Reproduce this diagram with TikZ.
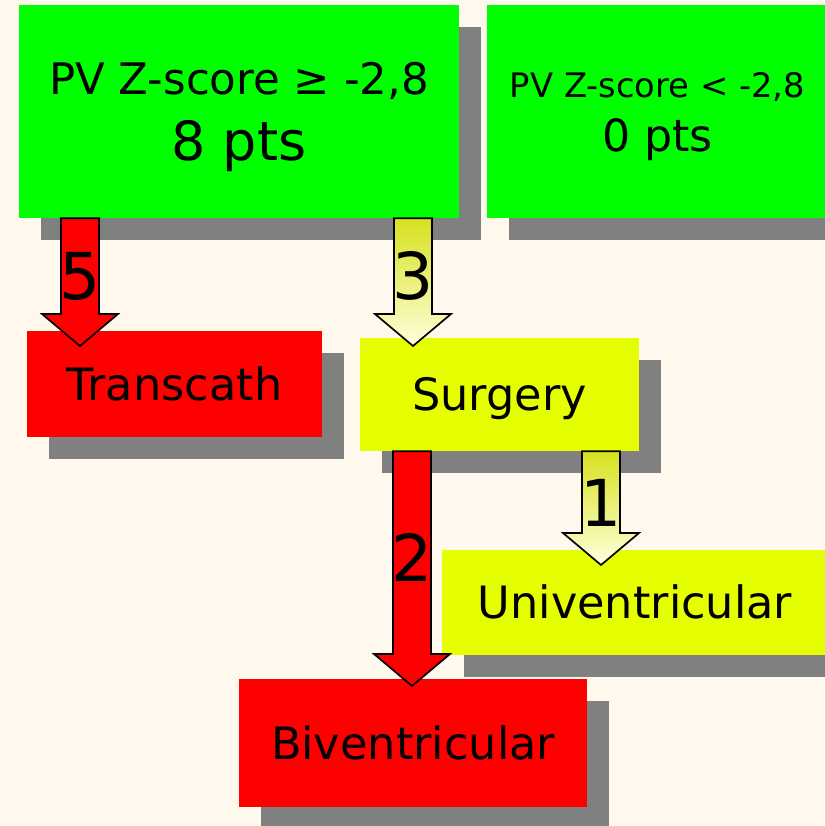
\documentclass[tikz,border=0pt]{standalone}
\usepackage{fontspec}
\setmainfont{DejaVu Sans}
\usetikzlibrary{calc,shadows}

\definecolor{bgcream}{RGB}{255,248,236}
\definecolor{boxgreen}{RGB}{0,255,0}
\definecolor{boxred}{RGB}{255,0,0}
\definecolor{boxyellow}{RGB}{230,255,0}
\definecolor{boxshadow}{RGB}{128,128,128}
\definecolor{arrowtop}{RGB}{215,225,30}
\definecolor{arrowbottom}{RGB}{255,255,220}

% block arrow: style, start, tip, label
\newcommand{\blockarrow}[4]{%
  \draw[#1] ($(#2)+(-19,0)$) -- ($(#3)+(-19,-32)$) -- ($(#3)+(-38,-32)$)
    -- (#3) -- ($(#3)+(38,-32)$) -- ($(#3)+(19,-32)$) -- ($(#2)+(19,0)$) -- cycle;
  \path (#2) -- (#3) node[numlabel, pos=0.455] {#4};}

\begin{document}
\begin{tikzpicture}[x=0.025cm, y=-0.025cm,
  box/.style={inner sep=0pt, text depth=0pt,
    drop shadow={shadow xshift=0.55cm, shadow yshift=-0.55cm, fill=boxshadow, opacity=1}},
  oneline/.style={box, text height=23.1pt, font=\fontsize{31.7}{38}\selectfont},
  numlabel/.style={inner sep=0pt, text height=33.5pt, text depth=0pt, font=\fontsize{46}{50}\selectfont},
  redarrow/.style={draw=black, line width=1.2pt, line join=miter, fill=boxred},
  yellowarrow/.style={draw=black, line width=1.2pt, line join=miter, top color=arrowtop, bottom color=arrowbottom}]

	\useasboundingbox (0,0) rectangle (824,826);
	\fill[bgcream] (0,0) rectangle (824,826);

	% score boxes
	\node[box, fill=boxgreen, minimum width=11cm, minimum height=5.325cm, align=center,
	  font=\fontsize{38.4}{47}\selectfont] (high) at (239,111.5)
	  {{\fontsize{30.9}{37}\selectfont PV Z-score ≥ -2,8}\\8 pts};
	\node[box, fill=boxgreen, minimum width=8.525cm, minimum height=5.325cm, align=center,
	  font=\fontsize{31.5}{38.4}\selectfont] (low) at (657.5,111.5)
	  {{\fontsize{24}{29}\selectfont PV Z-score < -2,8}\\0 pts};

	% treatment boxes
	\node[oneline, fill=boxred, minimum width=7.375cm, minimum height=2.65cm] (trans) at (174.5,384) {Transcath};
	\node[oneline, fill=boxyellow, minimum width=6.975cm, minimum height=2.825cm] (surg) at (499.5,394.5) {Surgery};
	\node[oneline, fill=boxyellow, minimum width=9.65cm, minimum height=2.625cm] (univ) at (635,602.5) {Univentricular};
	\node[oneline, fill=boxred, minimum width=8.7cm, minimum height=3.2cm] (biv) at (413,743) {Biventricular};

	% arrow tips and starts
	\coordinate (t5) at (80,346);
	\coordinate (t3) at (413,346);
	\coordinate (t2) at (412,686);
	\coordinate (t1) at (601,565);
	\coordinate (s5) at (high.south -| t5);
	\coordinate (s3) at (high.south -| t3);
	\coordinate (s2) at (surg.south -| t2);
	\coordinate (s1) at (surg.south -| t1);

	% arrows
	\blockarrow{redarrow}{s5}{t5}{5}
	\blockarrow{yellowarrow}{s3}{t3}{3}
	\blockarrow{redarrow}{s2}{t2}{2}
	\blockarrow{yellowarrow}{s1}{t1}{1}

\end{tikzpicture}
\end{document}
